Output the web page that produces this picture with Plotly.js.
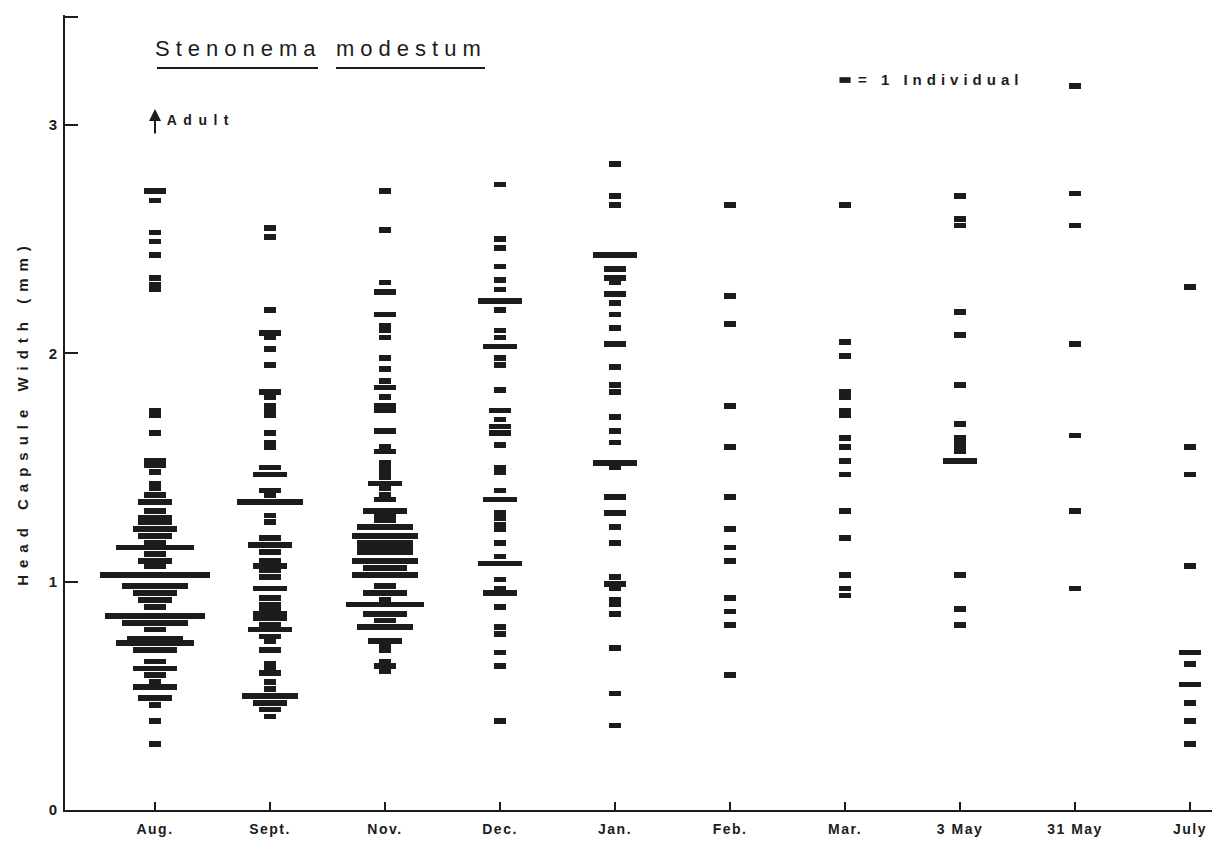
<!DOCTYPE html>
<html>
<head>
<meta charset="utf-8">
<script src="https://cdn.plot.ly/plotly-3.0.1.min.js"></script>
<style>html,body{margin:0;padding:0;background:#fff;}</style>
</head>
<body>
<div id="chart" style="width:1215px;height:843px;"></div>
<script>
// Sampling dates (x categories)
const months = ['Aug.', 'Sept.', 'Nov.', 'Dec.', 'Jan.', 'Feb.', 'Mar.', '3 May', '31 May', 'July'];

// Head capsule width (mm) classes and number of individuals per class
const augWidth = [2.71,2.67,2.53,2.49,2.43,2.33,2.30,2.28,1.75,1.73,1.65,1.53,1.51,1.48,1.43,1.41,1.38,1.35,1.31,1.28,1.26,1.23,1.20,1.17,1.15,1.12,1.09,1.07,1.03,0.98,0.95,0.92,0.89,0.85,0.82,0.79,0.75,0.73,0.70,0.65,0.62,0.59,0.56,0.54,0.49,0.46,0.39,0.29];
const augCount = [2,1,1,1,1,1,1,1,1,1,1,2,2,1,1,1,2,3,2,3,3,4,3,2,7,2,3,2,10,6,4,3,2,9,6,2,5,7,4,2,4,2,1,4,3,1,1,1];

const septWidth = [2.55,2.51,2.19,2.09,2.07,2.02,1.95,1.83,1.81,1.77,1.75,1.73,1.65,1.61,1.59,1.50,1.47,1.40,1.38,1.35,1.29,1.26,1.19,1.16,1.13,1.09,1.07,1.05,1.02,0.97,0.93,0.90,0.88,0.86,0.84,0.81,0.79,0.76,0.74,0.70,0.64,0.62,0.60,0.56,0.53,0.50,0.47,0.44,0.41];
const septCount = [1,1,1,2,1,1,1,2,1,1,1,1,1,1,1,2,3,2,1,6,1,1,2,4,2,2,3,2,2,3,2,2,2,3,3,2,4,2,1,2,1,1,2,1,1,5,3,2,1];

const novWidth = [2.71,2.54,2.31,2.27,2.17,2.12,2.10,2.07,1.98,1.93,1.88,1.85,1.81,1.77,1.75,1.66,1.59,1.57,1.52,1.50,1.48,1.46,1.43,1.41,1.38,1.36,1.31,1.29,1.27,1.24,1.20,1.17,1.15,1.13,1.09,1.06,1.03,0.98,0.95,0.92,0.90,0.86,0.83,0.80,0.74,0.72,0.70,0.65,0.63,0.61];
const novCount = [1,1,1,2,2,1,1,1,1,1,1,2,1,2,2,2,1,2,1,1,1,1,3,1,1,2,4,2,2,5,6,5,5,5,6,4,6,2,4,1,7,4,2,5,3,1,1,1,2,1];

const decWidth = [2.74,2.50,2.46,2.38,2.32,2.28,2.23,2.19,2.10,2.07,2.03,1.98,1.95,1.84,1.75,1.71,1.68,1.65,1.60,1.50,1.48,1.40,1.36,1.30,1.28,1.25,1.23,1.17,1.11,1.08,1.01,0.97,0.95,0.89,0.80,0.77,0.69,0.63,0.39];
const decCount = [1,1,1,1,1,1,4,1,1,1,3,1,1,1,2,1,2,2,1,1,1,1,3,1,1,1,1,1,1,4,1,1,3,1,1,1,1,1,1];

const janWidth = [2.83,2.69,2.65,2.43,2.37,2.33,2.31,2.26,2.22,2.17,2.11,2.04,1.94,1.86,1.83,1.72,1.66,1.61,1.52,1.50,1.37,1.30,1.24,1.17,1.02,0.99,0.97,0.92,0.90,0.86,0.71,0.51,0.37];
const janCount = [1,1,1,4,2,2,1,2,1,1,1,2,1,1,1,1,1,1,4,1,2,2,1,1,1,2,1,1,1,1,1,1,1];

const febWidth = [2.65,2.25,2.13,1.77,1.59,1.37,1.23,1.15,1.09,0.93,0.87,0.81,0.59];
const febCount = [1,1,1,1,1,1,1,1,1,1,1,1,1];

const marWidth = [2.65,2.05,1.99,1.83,1.81,1.75,1.73,1.63,1.59,1.53,1.47,1.31,1.19,1.03,0.97,0.94];
const marCount = [1,1,1,1,1,1,1,1,1,1,1,1,1,1,1,1];

const may3Width = [2.69,2.59,2.56,2.18,2.08,1.86,1.69,1.63,1.61,1.59,1.57,1.53,1.03,0.88,0.81];
const may3Count = [1,1,1,1,1,1,1,1,1,1,1,3,1,1,1];

const may31Width = [3.17,2.70,2.56,2.04,1.64,1.31,0.97];
const may31Count = [1,1,1,1,1,1,1];

const julyWidth = [2.29,1.59,1.47,1.07,0.69,0.64,0.55,0.47,0.39,0.29];
const julyCount = [1,1,1,1,2,1,2,1,1,1];

const yTickVals = [0, 1, 2, 3];
const yTickText = ['0', '1', '2', '3'];

// ---- drawing ----
const UNIT = 0.0965;   // x-axis units per individual
const BAR_H = 0.025;   // bar thickness in mm
const INK = '#1c1c1c';

const columns = [
  [augWidth, augCount], [septWidth, septCount], [novWidth, novCount],
  [decWidth, decCount], [janWidth, janCount], [febWidth, febCount],
  [marWidth, marCount], [may3Width, may3Count], [may31Width, may31Count],
  [julyWidth, julyCount]
];

const traces = columns.map(([w, n], i) => ({
  type: 'bar',
  orientation: 'h',
  y: w,
  x: n.map(c => c * UNIT),
  base: n.map(c => i - c * UNIT / 2),
  width: BAR_H,
  marker: {color: INK, line: {width: 0}},
  hoverinfo: 'skip',
  showlegend: false
}));

// plot area: l=65, r=3, t=15, b=33 -> 1147 x 795 px
const PW = 1147, PH = 795;
const px = x => (x - 65) / PW;
const py = y => (810 - y) / PH;
const YMAX = 3.482;

const layout = {
  width: 1215, height: 843,
  margin: {l: 65, r: 3, t: 15, b: 33},
  paper_bgcolor: '#ffffff', plot_bgcolor: '#ffffff',
  barmode: 'overlay', bargap: 0, showlegend: false,
  font: {family: 'Liberation Sans, Arial, sans-serif', color: INK},
  xaxis: {
    range: [-0.7826, 9.191],
    tickmode: 'array', tickvals: months.map((m, i) => i), ticktext: months,
    ticks: 'inside', ticklen: 8, tickwidth: 2, tickcolor: INK,
    showline: true, linewidth: 2, linecolor: INK,
    showgrid: false, zeroline: false,
    tickfont: {size: 14, weight: 'bold', color: INK},
    ticklabelstandoff: 5,
    fixedrange: true
  },
  yaxis: {
    range: [0, YMAX],
    tickmode: 'array', tickvals: yTickVals.concat([3.475]), ticktext: yTickText.concat(['']),
    ticks: 'inside', ticklen: 13, tickwidth: 2, tickcolor: INK,
    showline: true, linewidth: 2, linecolor: INK,
    showgrid: false, zeroline: false,
    tickfont: {size: 15, weight: 'bold', color: INK},
    ticklabelstandoff: 3,
    title: {text: 'Head Capsule Width (mm)', font: {size: 15, weight: 'bold', color: INK}, standoff: 16},
    automargin: false,
    fixedrange: true
  },
  shapes: [
    {type: 'line', xref: 'paper', yref: 'paper', x0: px(157), x1: px(318), y0: py(68), y1: py(68), line: {color: INK, width: 2}},
    {type: 'line', xref: 'paper', yref: 'paper', x0: px(336), x1: px(485), y0: py(68), y1: py(68), line: {color: INK, width: 2}},
    {type: 'rect', xref: 'x', yref: 'y', x0: 6 - UNIT / 2, x1: 6 + UNIT / 2, y0: 3.197 - BAR_H / 2, y1: 3.197 + BAR_H / 2, line: {width: 0}, fillcolor: INK}
  ],
  annotations: [
    {xref: 'paper', yref: 'paper', x: px(238), y: py(49), text: 'Stenonema', showarrow: false, xanchor: 'center', yanchor: 'middle', font: {size: 22, color: INK}},
    {xref: 'paper', yref: 'paper', x: px(411), y: py(49), text: 'modestum', showarrow: false, xanchor: 'center', yanchor: 'middle', font: {size: 22, color: INK}},
    {xref: 'paper', yref: 'paper', x: px(940), y: py(80), text: '= 1 Individual', showarrow: false, xanchor: 'center', yanchor: 'middle', font: {size: 15, weight: 'bold', color: INK}},
    {xref: 'x', yref: 'y', x: 0, y: 3.07, ax: 0, ay: 26, text: '', showarrow: true, arrowhead: 2, arrowsize: 1.2, arrowwidth: 2, arrowcolor: INK},
    {xref: 'paper', yref: 'paper', x: px(201), y: py(120), text: 'Adult', showarrow: false, xanchor: 'center', yanchor: 'middle', font: {size: 14, weight: 'bold', color: INK}}
  ]
};

Plotly.newPlot('chart', traces, layout, {displayModeBar: false, staticPlot: true}).then(() => {
  const spacing = {0: '6px', 1: '6px', 2: '5px', 4: '6.5px'};
  document.querySelectorAll('.annotation').forEach(g => {
    const idx = g.getAttribute('data-index');
    if (spacing[idx]) {
      g.querySelectorAll('text').forEach(t => t.style.letterSpacing = spacing[idx]);
    }
  });
  document.querySelectorAll('.ytitle').forEach(t => t.style.letterSpacing = '7px');
  document.querySelectorAll('.xtick text').forEach(t => t.style.letterSpacing = '1.5px');
});
</script>
</body>
</html>
